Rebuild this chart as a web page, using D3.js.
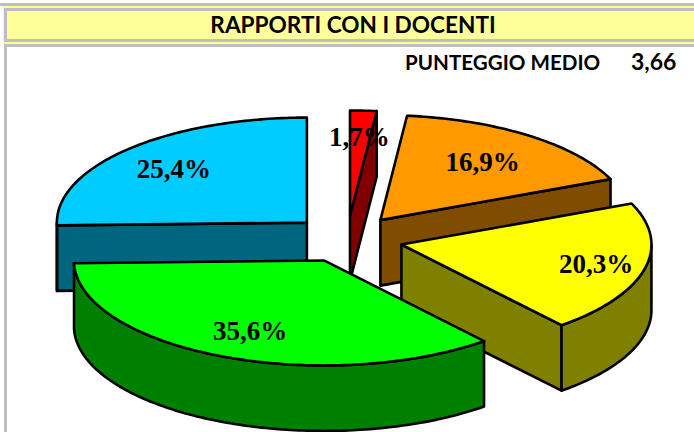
<!DOCTYPE html>
<html><head><meta charset="utf-8">
<script src="https://cdn.jsdelivr.net/npm/d3@7"></script>
<style>html,body{margin:0;padding:0;background:#fff;overflow:hidden}</style>
</head><body><div id="c"></div>
<script>
const labels = ["1,7%","16,9%","20,3%","35,6%","25,4%"];
const values = [1.7,16.9,20.3,35.6,25.4];
const topColors = ["#FF0000","#FF9900","#FFFF00","#00FF00","#00CCFF"];
const sideColors = ["#800000","#804D00","#808000","#008000","#006680"];
const title = "RAPPORTI CON I DOCENTI";
const scoreLabel = "PUNTEGGIO MEDIO";
const scoreValue = "3,66";
const drawOrder = [4,0,1,2,3];
const labelOffsets = [[1,-11],[10,-4],[44,6],[-10,14],[-22,-6]];

const W=694,H=432,cx=347,cy=239,rx=250,ry=105,depth=65.5,explode=56;
const svg=d3.select("#c").append("svg").attr("width",W).attr("height",H).style("display","block");
const G="#BFBFBF";
// frame
svg.append("rect").attr("x",0).attr("y",3).attr("width",W).attr("height",44).attr("fill",G);
svg.append("rect").attr("x",3).attr("y",6).attr("width",W-3).attr("height",38).attr("fill","#FFFF99");
svg.append("rect").attr("x",4).attr("y",8).attr("width",W-4).attr("height",34).attr("fill",G);
svg.append("rect").attr("x",7).attr("y",11).attr("width",W-7).attr("height",28).attr("fill","#FFFF99");
svg.append("rect").attr("x",0).attr("y",44).attr("width",4).attr("height",3).attr("fill","#fff");
svg.append("rect").attr("x",4).attr("y",44).attr("width",3).attr("height",H-44).attr("fill",G);
svg.append("rect").attr("x",0).attr("y",6).attr("width",3).attr("height",H-6).attr("fill","#fff");
const font="Lato,sans-serif";
svg.append("text").attr("x",353).attr("y",33).attr("text-anchor","middle")
  .attr("font-family",font).attr("font-weight",700).attr("font-size",22.6).attr("fill","#000").text(title);
svg.append("text").attr("x",405).attr("y",70).attr("font-family",font).attr("font-weight",700).attr("font-size",20.6).attr("fill","#000").text(scoreLabel);
svg.append("text").attr("x",631).attr("y",70).attr("font-family",font).attr("font-weight",700).attr("font-size",23).attr("fill","#000").text(scoreValue);

const pie=d3.pie().sort(null).startAngle(0).endAngle(2*Math.PI)(values);
const sx=d3.scaleLinear().domain([-1,1]).range([-rx,rx]);
const sy=d3.scaleLinear().domain([-1,1]).range([-ry,ry]);
const line=d3.line();
function geom(d){
  const mid=(d.startAngle+d.endAngle)/2;
  const ox=cx+sx(Math.sin(mid))*explode/rx, oy=cy-sy(Math.cos(mid))*explode/rx;
  const P=(a,z=0)=>[ox+sx(Math.sin(a)),oy-sy(Math.cos(a))+z];
  const arcPts=(a0,a1,z=0)=>{const n=Math.max(2,Math.ceil((a1-a0)*60));return d3.range(n+1).map(i=>P(a0+(a1-a0)*i/n,z));};
  return {ox,oy,P,arcPts};
}
const PI=Math.PI;
drawOrder.forEach(i=>{
  const d=pie[i],g=geom(d),s=svg.append("g");
  const style=p=>p.attr("stroke","#000").attr("stroke-width",2.6).attr("stroke-linejoin","round").attr("fill",sideColors[i]);
  const wall=a=>{style(s.append("path")).attr("d",line([[g.ox,g.oy],g.P(a),g.P(a,depth),[g.ox,g.oy+depth]])+"Z");};
  if(d.startAngle>PI) wall(d.startAngle);
  if(d.endAngle<PI) wall(d.endAngle);
  const a0=Math.max(d.startAngle,PI/2),a1=Math.min(d.endAngle,1.5*PI);
  if(a1>a0){style(s.append("path")).attr("d",line(g.arcPts(a0,a1).concat(g.arcPts(a0,a1,depth).reverse()))+"Z");}
  s.append("path").attr("d",line([[g.ox,g.oy]].concat(g.arcPts(d.startAngle,d.endAngle)))+"Z")
   .attr("fill",topColors[i]).attr("stroke","#000").attr("stroke-width",2.6).attr("stroke-linejoin","round");
});
pie.forEach((d,i)=>{
  const g=geom(d),mid=(d.startAngle+d.endAngle)/2,p=[g.ox+sx(Math.sin(mid))*0.62+labelOffsets[i][0],g.oy+0.5-sy(Math.cos(mid))*0.62+labelOffsets[i][1]];
  svg.append("text").attr("x",p[0]).attr("y",p[1]).attr("text-anchor","middle").attr("dominant-baseline","middle")
    .attr("font-family","'Liberation Serif',serif").attr("font-weight",700).attr("font-size",27).attr("fill","#000").text(labels[i]);
});
</script></body></html>
